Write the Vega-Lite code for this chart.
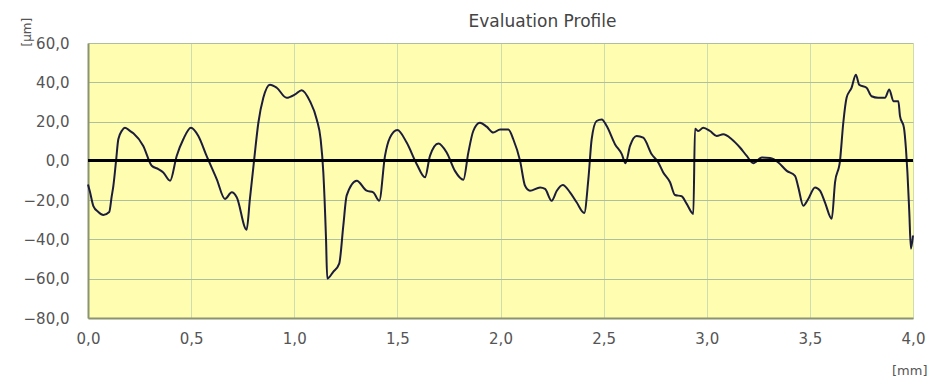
{
  "$schema": "https://vega.github.io/schema/vega-lite/v6.json",
  "width": 825,
  "height": 275,
  "autosize": {"type": "none"},
  "padding": {"left": 88, "top": 43, "right": 15, "bottom": 65},
  "background": "#ffffff",
  "title": {"text": "Evaluation Profile", "font": "DejaVu Sans", "fontSize": 17, "fontWeight": "normal", "color": "#444444", "dx": 42, "offset": -14},
  "config": {
    "view": {"fill": "#fffdb0", "stroke": null},
    "axis": {"labelFont": "DejaVu Sans", "labelFontSize": 15, "labelColor": "#555555", "titleFont": "DejaVu Sans", "titleFontWeight": "normal", "titleColor": "#555555", "ticks": false, "domainColor": "#8a9470", "domainWidth": 2, "gridOpacity": 1, "gridWidth": 1},
    "axisX": {"gridColor": "#cfdcb0"},
    "axisY": {"gridColor": "#adbf9c"}
  },
  "data": {"values": [
    {"x": 0.0, "y": -12}, {"x": 0.01, "y": -16}, {"x": 0.026, "y": -23}, {"x": 0.05, "y": -26}, {"x": 0.074, "y": -27.5},
    {"x": 0.103, "y": -26}, {"x": 0.115, "y": -18}, {"x": 0.123, "y": -12.7}, {"x": 0.136, "y": 0}, {"x": 0.147, "y": 11},
    {"x": 0.165, "y": 15.5}, {"x": 0.179, "y": 16.9}, {"x": 0.2, "y": 15.5}, {"x": 0.22, "y": 14}, {"x": 0.268, "y": 7.6},
    {"x": 0.309, "y": -2.5}, {"x": 0.341, "y": -4.2}, {"x": 0.365, "y": -5.9}, {"x": 0.398, "y": -10.1}, {"x": 0.43, "y": 2.5},
    {"x": 0.462, "y": 11}, {"x": 0.499, "y": 16.9}, {"x": 0.535, "y": 12.7}, {"x": 0.575, "y": 2.5}, {"x": 0.624, "y": -9.3},
    {"x": 0.664, "y": -19.4}, {"x": 0.697, "y": -16}, {"x": 0.721, "y": -18.5}, {"x": 0.769, "y": -35.1}, {"x": 0.785, "y": -19.4},
    {"x": 0.805, "y": 0}, {"x": 0.826, "y": 19.4}, {"x": 0.85, "y": 32.1}, {"x": 0.882, "y": 38.8}, {"x": 0.915, "y": 37.2},
    {"x": 0.963, "y": 32.1}, {"x": 1.004, "y": 33.8}, {"x": 1.036, "y": 36}, {"x": 1.076, "y": 30.4}, {"x": 1.109, "y": 21.1},
    {"x": 1.128, "y": 11}, {"x": 1.141, "y": -5.9}, {"x": 1.154, "y": -39.6}, {"x": 1.16, "y": -59.9}, {"x": 1.189, "y": -56.5},
    {"x": 1.218, "y": -52.3}, {"x": 1.238, "y": -32.9}, {"x": 1.254, "y": -17.7}, {"x": 1.303, "y": -10.1}, {"x": 1.351, "y": -15.2},
    {"x": 1.383, "y": -16}, {"x": 1.412, "y": -20.3}, {"x": 1.44, "y": 2.5}, {"x": 1.464, "y": 11.8}, {"x": 1.5, "y": 15.7},
    {"x": 1.545, "y": 9.3}, {"x": 1.594, "y": -1.7}, {"x": 1.634, "y": -8.4}, {"x": 1.658, "y": 2.5}, {"x": 1.699, "y": 8.8},
    {"x": 1.739, "y": 4.2}, {"x": 1.779, "y": -5.1}, {"x": 1.82, "y": -9.6}, {"x": 1.844, "y": 4.2}, {"x": 1.868, "y": 15.2},
    {"x": 1.9, "y": 19.4}, {"x": 1.933, "y": 17.4}, {"x": 1.965, "y": 14.4}, {"x": 1.998, "y": 16}, {"x": 2.038, "y": 16},
    {"x": 2.062, "y": 11}, {"x": 2.095, "y": 0}, {"x": 2.119, "y": -12.7}, {"x": 2.143, "y": -15.2}, {"x": 2.192, "y": -13.5},
    {"x": 2.216, "y": -14.3}, {"x": 2.248, "y": -20.3}, {"x": 2.273, "y": -15.2}, {"x": 2.302, "y": -12.3}, {"x": 2.337, "y": -16},
    {"x": 2.369, "y": -21.1}, {"x": 2.406, "y": -26.5}, {"x": 2.426, "y": -9.3}, {"x": 2.442, "y": 11}, {"x": 2.466, "y": 20.3},
    {"x": 2.491, "y": 21.1}, {"x": 2.515, "y": 17.7}, {"x": 2.555, "y": 8.5}, {"x": 2.588, "y": 3.4}, {"x": 2.606, "y": -1.2},
    {"x": 2.628, "y": 7.6}, {"x": 2.66, "y": 12.7}, {"x": 2.692, "y": 11.8}, {"x": 2.733, "y": 3.4}, {"x": 2.765, "y": -0.8},
    {"x": 2.789, "y": -5.9}, {"x": 2.822, "y": -10.9}, {"x": 2.846, "y": -17.4}, {"x": 2.878, "y": -18}, {"x": 2.903, "y": -21.9},
    {"x": 2.935, "y": -27}, {"x": 2.943, "y": 16.4}, {"x": 2.959, "y": 15.2}, {"x": 2.983, "y": 16.9}, {"x": 3.016, "y": 15.2},
    {"x": 3.048, "y": 12.7}, {"x": 3.08, "y": 13.5}, {"x": 3.121, "y": 11}, {"x": 3.161, "y": 6.8}, {"x": 3.194, "y": 2.5},
    {"x": 3.226, "y": -1.2}, {"x": 3.267, "y": 1.7}, {"x": 3.307, "y": 1.4}, {"x": 3.347, "y": -0.8}, {"x": 3.388, "y": -5.1},
    {"x": 3.428, "y": -7.6}, {"x": 3.444, "y": -13.5}, {"x": 3.468, "y": -22.8}, {"x": 3.492, "y": -19.4}, {"x": 3.525, "y": -13.5},
    {"x": 3.549, "y": -15.2}, {"x": 3.573, "y": -21.1}, {"x": 3.606, "y": -29.5}, {"x": 3.622, "y": -10.9}, {"x": 3.646, "y": 0},
    {"x": 3.662, "y": 19.4}, {"x": 3.678, "y": 32.1}, {"x": 3.702, "y": 37.2}, {"x": 3.723, "y": 43.9}, {"x": 3.739, "y": 38.8},
    {"x": 3.775, "y": 37.2}, {"x": 3.799, "y": 32.9}, {"x": 3.831, "y": 32.1}, {"x": 3.864, "y": 32.1}, {"x": 3.885, "y": 36.3},
    {"x": 3.905, "y": 30.4}, {"x": 3.929, "y": 30.4}, {"x": 3.937, "y": 22.8}, {"x": 3.956, "y": 16.9}, {"x": 3.966, "y": 5.9},
    {"x": 3.973, "y": -5.9}, {"x": 3.982, "y": -26.1}, {"x": 3.99, "y": -44.7}, {"x": 4.0, "y": -38}
  ]},
  "layer": [
    {
      "mark": {"type": "line", "color": "#1c1c3c", "strokeWidth": 2, "strokeJoin": "round", "interpolate": "monotone"},
      "encoding": {
        "x": {"field": "x", "type": "quantitative", "scale": {"domain": [0, 4], "nice": false, "zero": false},
          "axis": {"values": [0, 0.5, 1, 1.5, 2, 2.5, 3, 3.5, 4], "labelExpr": "replace(format(datum.value, '.1f'), '.', ',')", "labelPadding": 13, "labelFlush": false,
            "title": "[mm]", "titleFontSize": 13, "titleX": 839, "titleY": 52, "titleAlign": "right", "titleBaseline": "middle", "titleAnchor": null}},
        "y": {"field": "y", "type": "quantitative", "scale": {"domain": [-80, 60], "nice": false, "zero": false},
          "axis": {"tickCount": 7, "labelExpr": "replace(format(datum.value, '.1f'), '.', ',')", "labelPadding": 19, "labelFlush": false, "labelOverlap": false,
            "title": "[μm]", "titleFontSize": 12, "titleAngle": 270, "titleX": -62, "titleY": 3, "titleAlign": "left", "titleBaseline": "middle", "titleAnchor": null}}
      }
    },
    {
      "mark": {"type": "rule", "color": "#000000", "strokeWidth": 2},
      "encoding": {"y": {"datum": 0}}
    }
  ]
}
